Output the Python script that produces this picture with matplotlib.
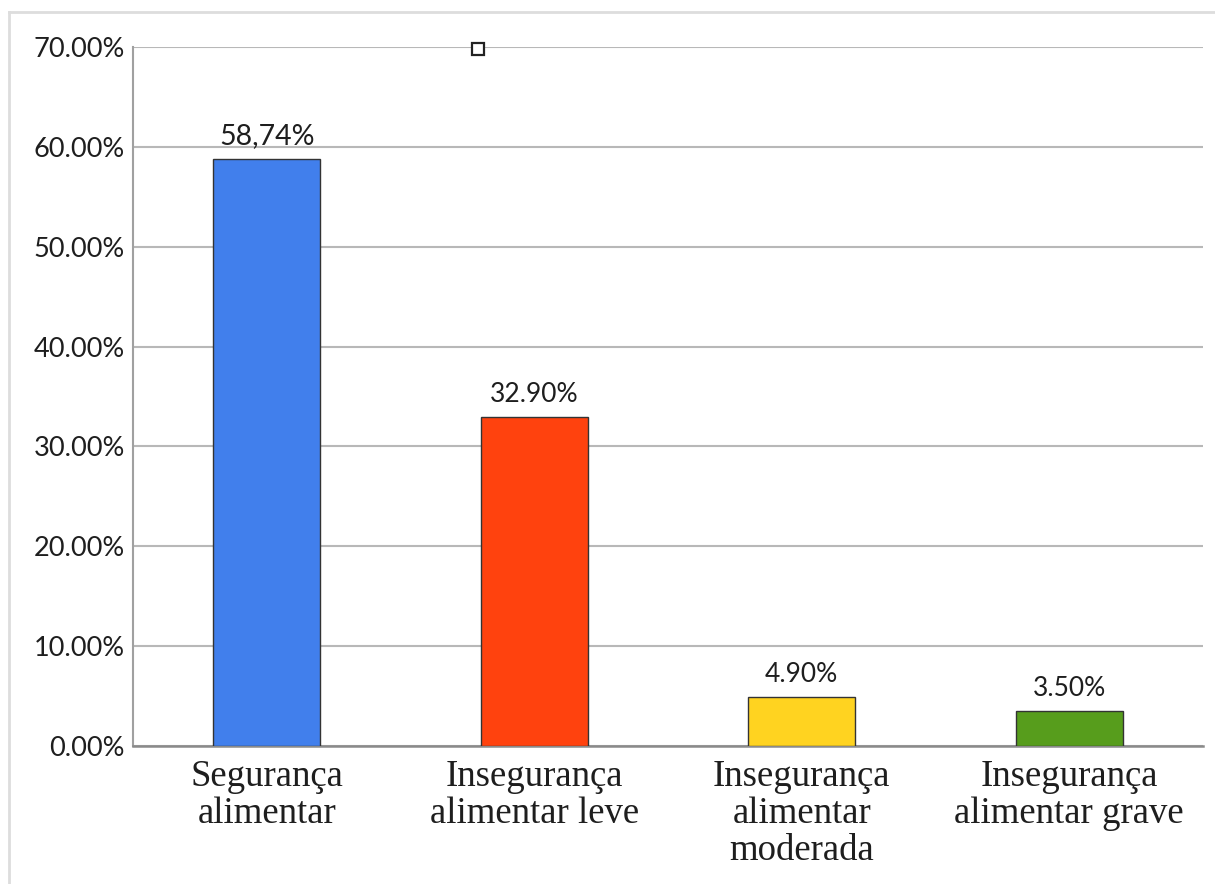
import matplotlib
matplotlib.use("Agg")
from matplotlib import pyplot as plt
from matplotlib.lines import Line2D
from matplotlib.ticker import FuncFormatter

categories = ["Segurança\nalimentar", "Insegurança\nalimentar leve",
              "Insegurança\nalimentar\nmoderada", "Insegurança\nalimentar grave"]
values = [58.74, 32.90, 4.90, 3.50]
value_labels = ["58,74%", "32.90%", "4.90%", "3.50%"]
label_sizes = [20.5, 19, 19, 19]
colors = ["#417fec", "#ff420e", "#ffd320", "#579d1c"]
y_ticks = [0, 10, 20, 30, 40, 50, 60, 70]

# leftover legend symbol seen near the top of the plot
legend_marker_x = 0.79
legend_marker_y = 69.8

fig = plt.figure(figsize=(12.15, 8.84), dpi=100)
ax = fig.add_axes([133 / 1215, 1 - 746 / 884, (1203 - 133) / 1215, (746 - 47) / 884])

x = list(range(len(values)))
ax.bar(x, values, width=0.4, color=colors, edgecolor="#333333", linewidth=1.0, zorder=3)

for i in range(len(values)):
    ax.annotate(value_labels[i], (x[i], values[i]), xytext=(0, 11), textcoords="offset points",
                ha="center", va="baseline", fontsize=label_sizes[i], family="Lato", color="#1e1e1e")

ax.set_xlim(-0.5, len(values) - 0.5)
ax.set_ylim(0, 70)
ax.set_yticks(y_ticks)
ax.yaxis.set_major_formatter(FuncFormatter(lambda v, p: f"{v:.2f}%"))
ax.set_xticks(x)
ax.set_xticklabels(categories, family="Liberation Serif", fontsize=26.5, linespacing=1.08,
                   color="#1e1e1e")
for lab in ax.get_yticklabels():
    lab.set_family("Lato")
    lab.set_fontsize(19.5)
    lab.set_color("#1e1e1e")
ax.tick_params(axis="y", length=0, pad=6)
ax.tick_params(axis="x", length=0, pad=10)

ax.grid(axis="y", color="#b8b8b8", linewidth=1.5, zorder=0)
ax.spines["top"].set_visible(False)
ax.spines["right"].set_visible(False)
ax.spines["left"].set_color("#a0a0a0")
ax.spines["left"].set_linewidth(1.5)
ax.spines["bottom"].set_color("#8a8a8a")
ax.spines["bottom"].set_linewidth(1.8)

ax.plot([legend_marker_x], [legend_marker_y], marker="s", markersize=9, markerfacecolor="white",
        markeredgecolor="#222222", markeredgewidth=1.6, clip_on=False, zorder=5)

# outer frame of the original chart area
fig.add_artist(Line2D([9 / 1215, 1], [1 - 12 / 884, 1 - 12 / 884], color="#dddddd", linewidth=2))
fig.add_artist(Line2D([9 / 1215, 9 / 1215], [0, 1 - 12 / 884], color="#dddddd", linewidth=2))

fig.savefig("out.png", dpi=100)
